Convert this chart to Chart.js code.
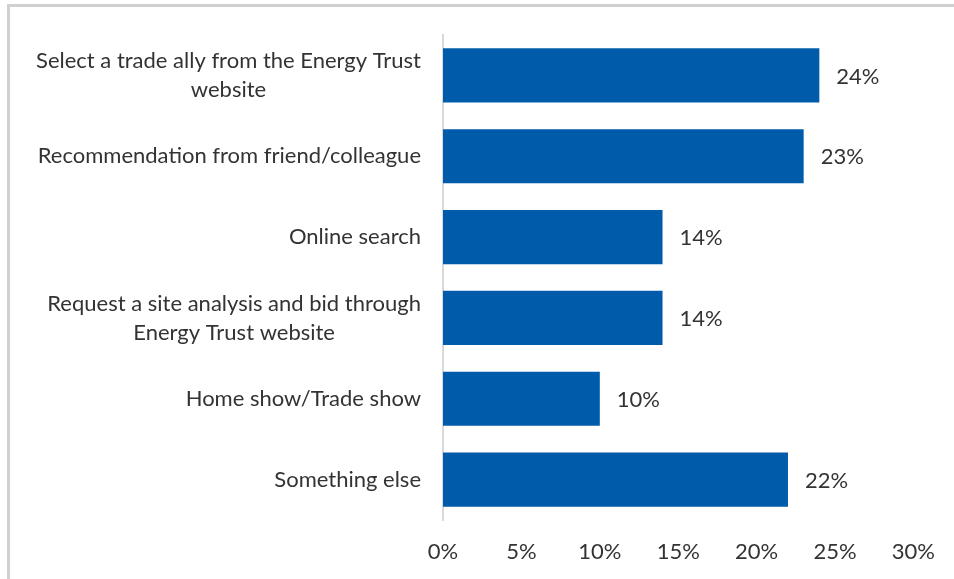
<!DOCTYPE html>
<html>
<head>
<meta charset="utf-8">
<script src="https://cdn.jsdelivr.net/npm/chart.js@4.4.1/dist/chart.umd.min.js"></script>
<style>
    html, body { margin: 0; padding: 0; background: #fff; overflow: hidden; }
    #wrap { position: relative; width: 954px; height: 579px; }
    #frame {
        position: absolute; left: 7px; top: 4px; right: -10px; bottom: -10px;
        border-top: 3px solid #d0d0d0; border-left: 3px solid #d0d0d0;
    }
    canvas { position: absolute; left: 0; top: 0; }
</style>
</head>
<body>
<div id="wrap">
    <div id="frame"></div>
    <canvas id="sourceChart" width="954" height="579"></canvas>
</div>
<script>
// How respondents found their contractor
const categories = [
    ['Select a trade ally from the Energy Trust', 'website'],
    ['Recommendation from friend/colleague'],
    ['Online search'],
    ['Request a site analysis and bid through', 'Energy Trust website'],
    ['Home show/Trade show'],
    ['Something else']
];
const shares = [24, 23, 14, 14, 10, 22];
const xTicks = [0, 5, 10, 15, 20, 25, 30];

const FONT = "'Lato', 'Open Sans', sans-serif";
const FONT_SIZE = 22;
const TEXT_COLOR = '#333333';
const BAR_COLOR = '#005cab';

/**
 * Category labels: block right-aligned against the axis, lines centered within the block
 */
const categoryLabels = {
    id: 'categoryLabels',
    afterDraw(chart) {
        const ctx = chart.ctx;
        const yScale = chart.scales.y;
        const right = chart.chartArea.left - 22;
        const lineHeight = 29;
        ctx.save();
        ctx.font = FONT_SIZE + 'px ' + FONT;
        ctx.fillStyle = TEXT_COLOR;
        ctx.textAlign = 'center';
        ctx.textBaseline = 'middle';
        categories.forEach((lines, i) => {
            const yc = yScale.getPixelForTick(i);
            const blockWidth = Math.max(...lines.map(l => ctx.measureText(l).width));
            const cx = right - blockWidth / 2;
            const top = yc - (lines.length - 1) * lineHeight / 2;
            lines.forEach((line, j) => {
                ctx.fillText(line, cx, top + j * lineHeight);
            });
        });
        ctx.restore();
    }
};

/**
 * Value labels to the right of each bar
 */
const valueLabels = {
    id: 'valueLabels',
    afterDatasetsDraw(chart) {
        const ctx = chart.ctx;
        const meta = chart.getDatasetMeta(0);
        ctx.save();
        ctx.font = FONT_SIZE + 'px ' + FONT;
        ctx.fillStyle = TEXT_COLOR;
        ctx.textAlign = 'left';
        ctx.textBaseline = 'middle';
        meta.data.forEach((bar, i) => {
            ctx.fillText(shares[i] + '%', bar.x + 17, bar.y + 1);
        });
        ctx.restore();
    }
};

new Chart(document.getElementById('sourceChart'), {
    type: 'bar',
    data: {
        labels: categories.map(c => c.join(' ')),
        datasets: [{
            data: shares,
            backgroundColor: BAR_COLOR,
            borderWidth: 0,
            categoryPercentage: 0.67,
            barPercentage: 1
        }]
    },
    options: {
        indexAxis: 'y',
        responsive: false,
        animation: false,
        layout: {
            padding: { top: 35, right: 36, left: 0, bottom: 0 }
        },
        plugins: {
            legend: { display: false },
            tooltip: { enabled: false }
        },
        scales: {
            y: {
                ticks: { display: false },
                grid: { display: false, drawTicks: false },
                border: { display: true, color: '#d9d9d9', width: 2 },
                afterFit(scale) { scale.width = 443; }
            },
            x: {
                min: xTicks[0],
                max: xTicks[xTicks.length - 1],
                ticks: {
                    stepSize: xTicks[1] - xTicks[0],
                    padding: 19,
                    color: TEXT_COLOR,
                    font: { family: FONT, size: FONT_SIZE },
                    callback: v => v + '%'
                },
                grid: { display: false, drawTicks: false },
                border: { display: false },
                afterFit(scale) { scale.height = 59; }
            }
        }
    },
    plugins: [categoryLabels, valueLabels]
});
</script>
</body>
</html>
